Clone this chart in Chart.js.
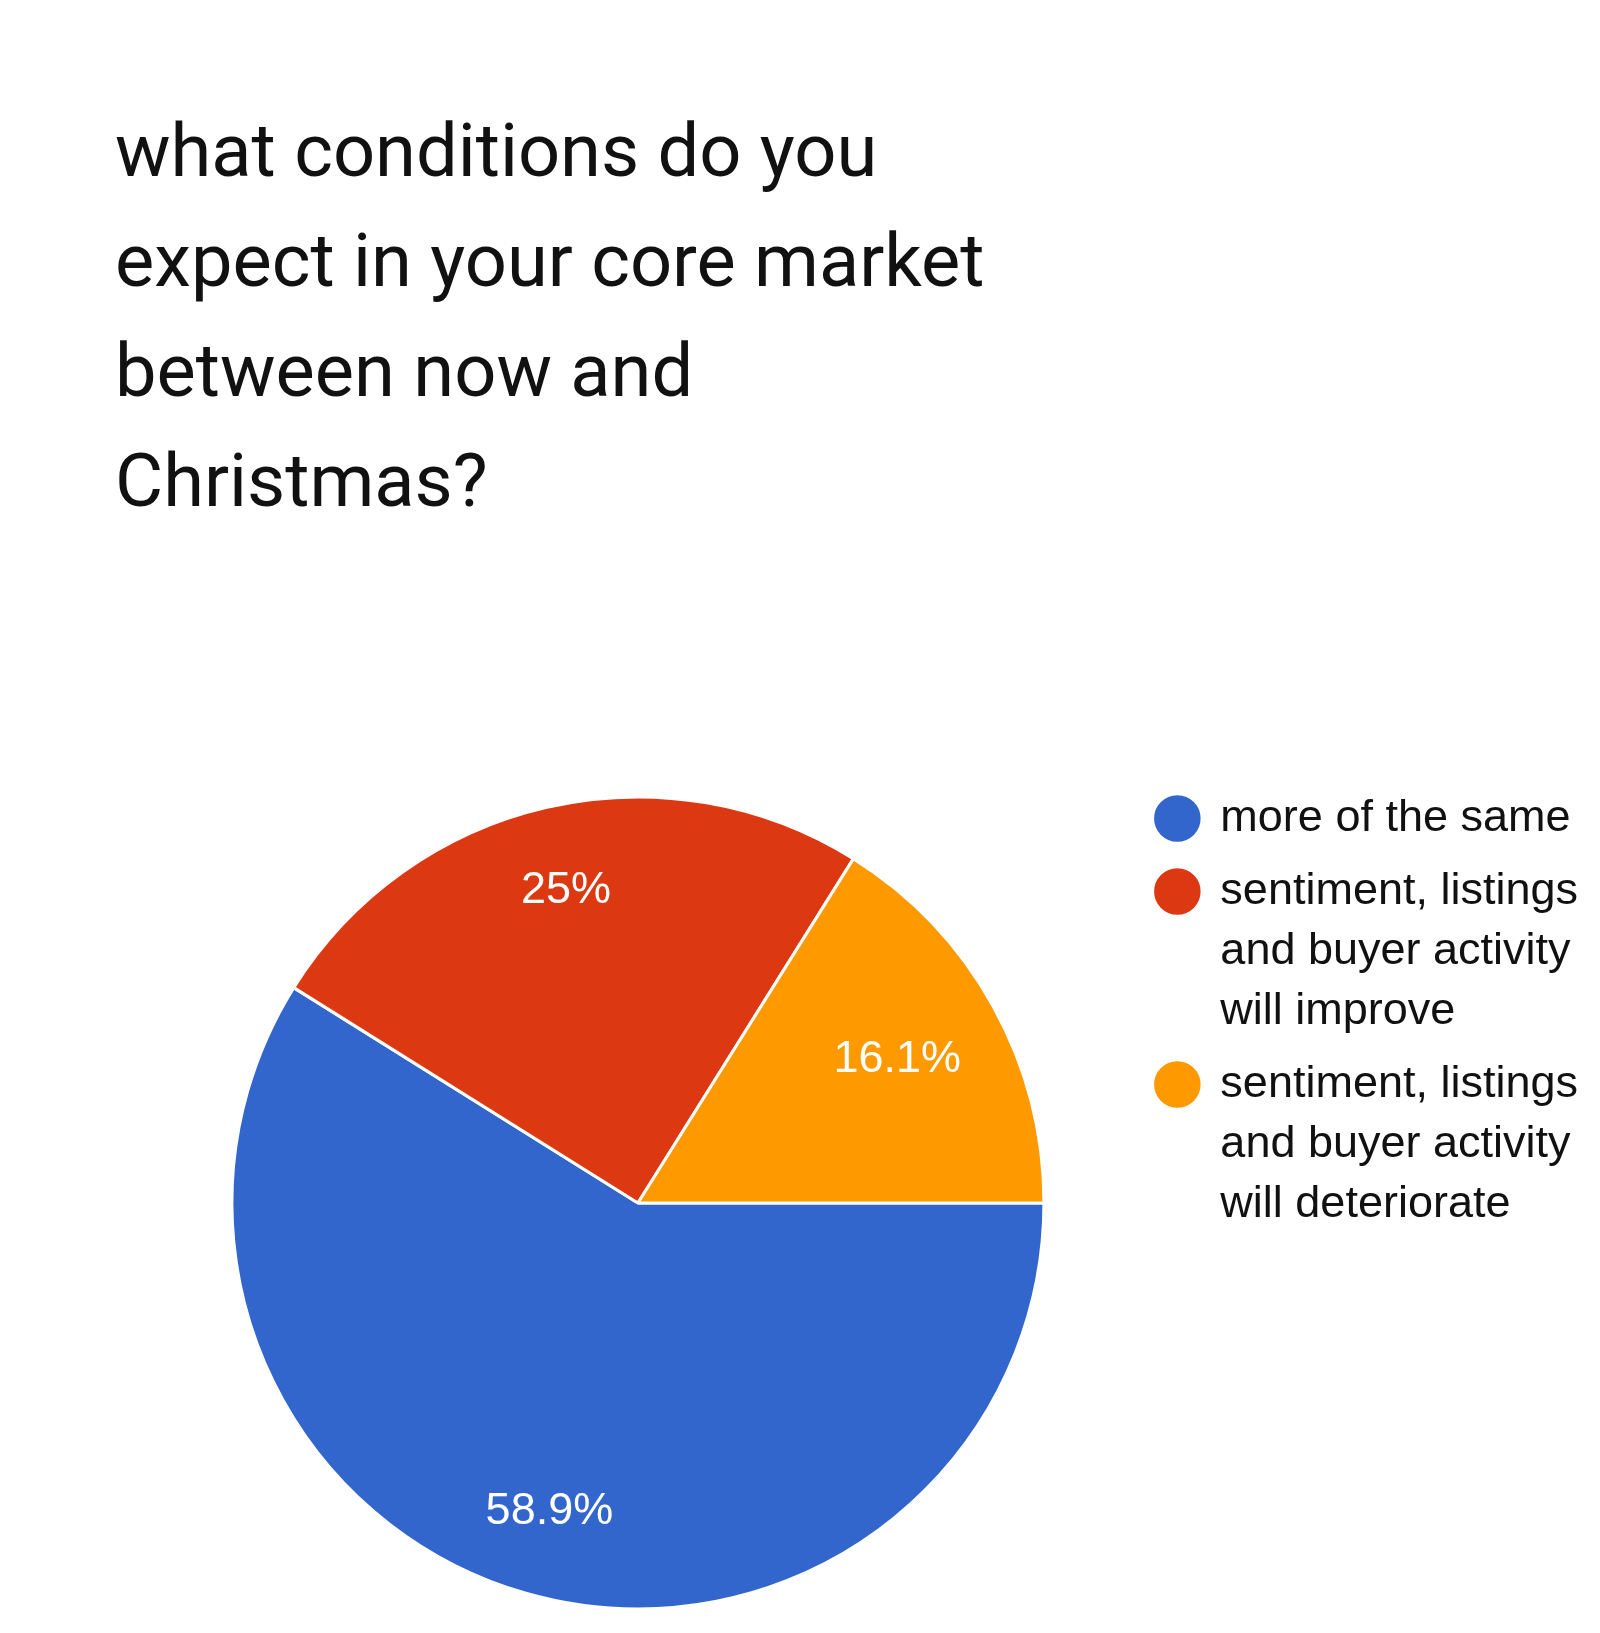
<!DOCTYPE html>
<html>
<head>
<meta charset="utf-8">
<script src="https://cdn.jsdelivr.net/npm/chart.js@4/dist/chart.umd.min.js"></script>
<style>
  html, body { margin: 0; padding: 0; background: #fff; }
  #wrap { position: relative; width: 1600px; height: 1633px; }
  #title { position: absolute; left: 115px; top: 96px; margin: 0;
    font-family: Roboto, sans-serif; font-weight: 400; font-size: 74px; line-height: 110px; color: #111; }
  canvas { position: absolute; left: 0; top: 0; }
</style>
</head>
<body>
<div id="wrap">
  <canvas id="chart" width="1600" height="1633"></canvas>
  <h1 id="title">what conditions do you<br>expect in your core market<br>between now and<br>Christmas?</h1>
</div>
<script>
var categories = [
  ['more of the same'],
  ['sentiment, listings', 'and buyer activity', 'will improve'],
  ['sentiment, listings', 'and buyer activity', 'will deteriorate']
];
var shares = [58.9, 25, 16.1];
var sliceColors = ['#3366cc', '#dc3912', '#ff9900'];

// white percentage text inside each slice
var sliceLabels = {
  id: 'sliceLabels',
  afterDatasetsDraw: function(chart){
    var ctx = chart.ctx;
    var arcs = chart.getDatasetMeta(0).data;
    ctx.save();
    ctx.font = '45px "Liberation Sans", Arial, sans-serif';
    ctx.fillStyle = '#fff';
    ctx.textAlign = 'center';
    ctx.textBaseline = 'middle';
    arcs.forEach(function(arc, i){
      var p = arc.getProps(['x','y','startAngle','endAngle','outerRadius'], true);
      var mid = (p.startAngle + p.endAngle) / 2;
      // narrow slices get their label pulled a bit toward the centre
      var k = (p.endAngle - p.startAngle) < 1.2 ? 0.73 : 0.79;
      var r = p.outerRadius * k;
      ctx.fillText(shares[i] + '%', p.x + Math.cos(mid) * r, p.y + Math.sin(mid) * r);
    });
    ctx.restore();
  }
};

new Chart(document.getElementById('chart'), {
  type: 'pie',
  data: {
    labels: categories,
    datasets: [{
      data: shares,
      backgroundColor: sliceColors,
      borderColor: '#fff',
      borderWidth: 3,
      radius: 406
    }]
  },
  options: {
    responsive: false,
    animation: false,
    rotation: 90,
    layout: { padding: { top: 783, bottom: 10, left: 132, right: 12 } },
    plugins: {
      tooltip: { enabled: false },
      legend: {
        position: 'right',
        align: 'start',
        labels: {
          usePointStyle: true,
          pointStyle: 'circle',
          boxWidth: 41,
          boxHeight: 35,
          padding: 13,
          color: '#111',
          font: { family: '"Liberation Sans", Arial, sans-serif', size: 45, lineHeight: 1.333 }
        }
      }
    }
  },
  plugins: [sliceLabels]
});
</script>
</body>
</html>
